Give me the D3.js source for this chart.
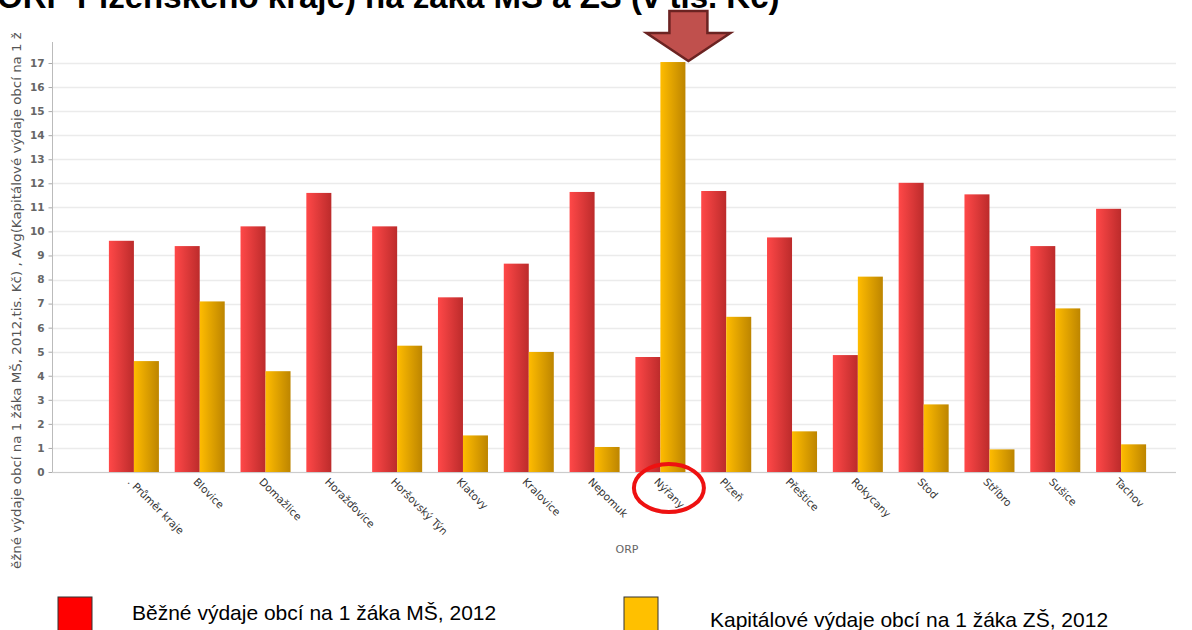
<!DOCTYPE html>
<html>
<head>
<meta charset="utf-8">
<script src="https://cdnjs.cloudflare.com/ajax/libs/d3/7.8.5/d3.min.js"></script>
<style>
  body { margin: 0; background: #fff; }
  svg { display: block; }
</style>
</head>
<body>
<svg width="1192" height="630" id="chart"></svg>
<script>
// categories (ORP) and the two series
var orp = [". Průměr kraje", "Blovice", "Domažlice", "Horažďovice", "Horšovský Týn", "Klatovy",
  "Kralovice", "Nepomuk", "Nýřany", "Plzeň", "Přeštice", "Rokycany", "Stod", "Stříbro", "Sušice", "Tachov"];
var bezne = [9.61, 9.39, 10.21, 11.60, 10.21, 7.26, 8.66, 11.64, 4.78, 11.68, 9.75, 4.86, 12.02, 11.54, 9.39, 10.94];
var kapitalove = [4.61, 7.09, 4.19, 0, 5.25, 1.52, 4.99, 1.04, 17.04, 6.45, 1.69, 8.12, 2.81, 0.94, 6.80, 1.15];
var seriesKeys = ["bezne", "kapitalove"];
var yTicks = d3.range(0, 18);
var legendLabels = ["Běžné výdaje obcí na 1 žáka MŠ, 2012", "Kapitálové výdaje obcí na 1 žáka ZŠ, 2012"];

var svg = d3.select("svg");

//gradients for the bars
var defs = svg.append("defs");
var grads = {bezne: ["#ff4848", "#bc2b2b"], kapitalove: ["#ffbc00", "#bd8500"]};
seriesKeys.forEach(function(k) {
  var g = defs.append("linearGradient").attr("id", "g-" + k)
    .attr("x1", "0%").attr("x2", "100%").attr("y1", "0%").attr("y2", "0%");
  g.append("stop").attr("offset", "0%").attr("stop-color", grads[k][0]);
  g.append("stop").attr("offset", "100%").attr("stop-color", grads[k][1]);
});
defs.append("clipPath").attr("id", "ylab-clip")
  .append("rect").attr("x", 0).attr("y", 33).attr("width", 40).attr("height", 538);

var data = orp.map(function(c, i) { return {orp: c, bezne: bezne[i], kapitalove: kapitalove[i]}; });

//scales
var x0 = d3.scaleBand().domain(orp).range([101, 1154]).paddingInner(0.24).paddingOuter(0.12);
var x1 = d3.scaleBand().domain(seriesKeys).range([0, x0.bandwidth()]);
var y = d3.scaleLinear().domain([0, 17]).range([472, 63]);

//title (top is cut off in the original)
svg.append("text")
  .attr("x", -3).attr("y", 8)
  .style("font", "bold 33px 'Liberation Sans', Arial, sans-serif")
  .attr("fill", "#000")
  .text("ORP  Plzeňského kraje) na žáka MŠ a ZŠ (v tis. Kč)");

//grid lines
svg.append("g").selectAll("line").data(yTicks).enter().append("line")
  .attr("x1", 52).attr("x2", 1176)
  .attr("y1", function(d) { return Math.round(y(d)) + 0.5; })
  .attr("y2", function(d) { return Math.round(y(d)) + 0.5; })
  .attr("stroke", "#ebebeb").attr("stroke-width", 1.5);

//y axis
var yAxis = svg.append("g")
  .attr("transform", "translate(52.5,0)")
  .call(d3.axisLeft(y).tickValues(yTicks).tickSize(4).tickPadding(4));
yAxis.select(".domain").remove();
yAxis.selectAll(".tick line").attr("stroke", "#aaa");
yAxis.selectAll("text")
  .style("font", "bold 10.5px 'DejaVu Sans', sans-serif")
  .attr("fill", "#666");
svg.append("line").attr("x1", 52.5).attr("x2", 52.5).attr("y1", 42).attr("y2", 472)
  .attr("stroke", "#bbb");

//y axis label, clipped like in the original
svg.append("g").attr("clip-path", "url(#ylab-clip)")
  .append("text")
  .attr("transform", "translate(21,569) rotate(-90)")
  .attr("text-anchor", "start")
  .attr("textLength", 545).attr("lengthAdjust", "spacingAndGlyphs")
  .style("font", "12px 'DejaVu Sans', sans-serif")
  .attr("fill", "#555")
  .text("ěžné výdaje obcí na 1 žáka MŠ, 2012,tis. Kč) , Avg(Kapitálové výdaje obcí na 1 žá");

//bars
var groups = svg.append("g").selectAll("g").data(data).enter().append("g")
  .attr("transform", function(d) { return "translate(" + x0(d.orp) + ",0)"; });
groups.selectAll("rect")
  .data(function(d) { return seriesKeys.map(function(k) { return {key: k, value: d[k]}; }); })
  .enter().append("rect")
  .filter(function(d) { return d.value > 0; })
  .attr("x", function(d) { return x1(d.key); })
  .attr("width", x1.bandwidth())
  .attr("y", function(d) { return y(d.value); })
  .attr("height", function(d) { return y(0) - y(d.value); })
  .attr("fill", function(d) { return "url(#g-" + d.key + ")"; });

//x axis
var xAxis = svg.append("g")
  .attr("transform", "translate(0,472.5)")
  .call(d3.axisBottom(x0).tickSize(0).tickPadding(0));
xAxis.select(".domain").attr("stroke", "#ccc").attr("d", "M52,0H1176");
xAxis.selectAll(".tick text")
  .attr("text-anchor", "start")
  .attr("dy", 0)
  .attr("transform", "translate(-7,10) rotate(45)")
  .style("font", "10.5px 'DejaVu Sans', sans-serif")
  .attr("fill", "#333");

svg.append("text")
  .attr("x", 627).attr("y", 553).attr("text-anchor", "middle")
  .style("font", "11px 'DejaVu Sans', sans-serif").attr("fill", "#666")
  .text("ORP");

//highlight: arrow and circle around Nýřany
var hc = x0("Nýřany") + x0.bandwidth() / 2;
var arrow = [[-19, -50], [19, -50], [19, -28], [42, -28], [0, 0], [-42, -28], [-19, -28]];
svg.append("path")
  .attr("d", d3.line()(arrow.map(function(p) { return [hc + 28 + p[0], 61 + p[1]]; })) + "Z")
  .attr("fill", "#c0504d").attr("stroke", "#6b2322").attr("stroke-width", 2.5)
  .attr("stroke-linejoin", "miter");
svg.append("ellipse")
  .attr("cx", hc + 8.5).attr("cy", 488).attr("rx", 35).attr("ry", 24)
  .attr("fill", "none").attr("stroke", "#ee1111").attr("stroke-width", 4);

//legend
var legend = svg.append("g");
var legPos = [[58, 132, 620], [624, 710, 627]];
var legFill = ["#ff0000", "#ffc000"];
legendLabels.forEach(function(l, i) {
  legend.append("rect")
    .attr("x", legPos[i][0]).attr("y", 597).attr("width", 34).attr("height", 40)
    .attr("fill", legFill[i]).attr("stroke", "#333").attr("stroke-width", 1);
  legend.append("text")
    .attr("x", legPos[i][1]).attr("y", legPos[i][2])
    .style("font", "21px 'Liberation Sans', Arial, sans-serif").attr("fill", "#000")
    .text(l);
});
</script>
</body>
</html>
